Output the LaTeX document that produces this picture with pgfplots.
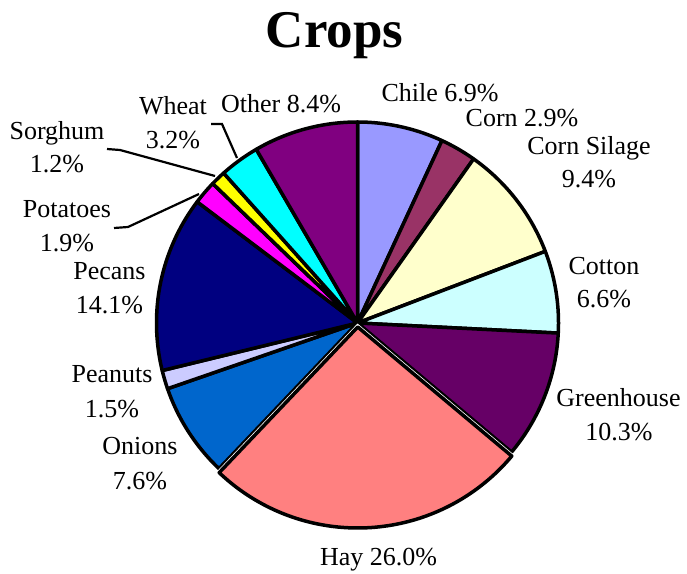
\documentclass[border=0pt]{standalone}
\usepackage{pgfplots}
\pgfplotsset{compat=1.18}
\usepackage{fontspec}
\setmainfont{Liberation Serif}
\definecolor{cChile}{HTML}{9999FF}
\definecolor{cCorn}{HTML}{993366}
\definecolor{cSilage}{HTML}{FFFFCC}
\definecolor{cCotton}{HTML}{CCFFFF}
\definecolor{cGreen}{HTML}{660066}
\definecolor{cHay}{HTML}{FF8080}
\definecolor{cOnion}{HTML}{0066CC}
\definecolor{cPeanut}{HTML}{CCCCFF}
\definecolor{cPecan}{HTML}{000080}
\definecolor{cPotato}{HTML}{FF00FF}
\definecolor{cSorghum}{HTML}{FFFF00}
\definecolor{cWheat}{HTML}{00FFFF}
\definecolor{cOther}{HTML}{800080}
% slice: #1 start (cumulative %), #2 end (cumulative %), #3 colour, #4 centre x, #5 centre y
\newcommand\slice[5]{%
  \addplot[fill=#3, draw=black, line width=3.5pt, line join=round,
    domain={3.6*#1}:{3.6*#2}, samples=80, variable=\t]
    ({#4+201*sin(t)}, {#5+201*cos(t)}) -- (axis cs:#4,#5) -- cycle;}
\newcommand\lab[3]{\node[anchor=base, inner sep=0pt, font=\fontsize{26}{30}\selectfont] at (axis cs:#1,{573-#2}) {#3};}
\begin{document}
\begin{tikzpicture}
\begin{axis}[
  width=687pt, height=573pt, scale only axis, hide axis, clip=false,
  xmin=0, xmax=687, ymin=0, ymax=573]
\path (rel axis cs:0,0) rectangle (rel axis cs:1,1);
% values (percent): Chile 6.9, Corn 2.9, Corn Silage 9.4, Cotton 6.6, Greenhouse 10.3,
% Hay 26.0, Onions 7.6, Peanuts 1.5, Pecans 14.1, Potatoes 1.9, Sorghum 1.2, Wheat 3.2, Other 8.4
\slice{0}{6.9}{cChile}{357.5}{250}
\slice{6.9}{9.8}{cCorn}{357.5}{250}
\slice{9.8}{19.2}{cSilage}{357.5}{250}
\slice{19.2}{25.8}{cCotton}{357.5}{250}
\slice{25.8}{36.1}{cGreen}{357.5}{250}
\slice{62.1}{69.7}{cOnion}{357.5}{250}
\slice{69.7}{71.2}{cPeanut}{357.5}{250}
\slice{71.2}{85.3}{cPecan}{357.5}{250}
\slice{85.3}{87.2}{cPotato}{357.5}{250}
\slice{87.2}{88.4}{cSorghum}{357.5}{250}
\slice{88.4}{91.6}{cWheat}{357.5}{250}
\slice{91.6}{100}{cOther}{357.5}{250}
\addplot[draw=white, line width=5pt, domain={3.6*36.1}:{3.6*62.1}, samples=80, variable=\t]
  ({357.7+201*sin(t)}, {246+201*cos(t)}) -- (axis cs:357.7,246) -- cycle;
\slice{36.1}{62.1}{cHay}{357.7}{246}
% leader lines
\addplot[black, line width=2.2pt] coordinates {(107,424) (120,423) (215,397)};
\addplot[black, line width=2.2pt] coordinates {(114,345) (128,346) (199,379)};
\addplot[black, line width=2.2pt] coordinates {(211,449) (222,449) (237,415)};
% title
\node[anchor=base, inner sep=0pt, font=\bfseries\fontsize{53}{60}\selectfont] at (axis cs:334.5,{573-48}) {Crops};
% labels
\lab{440}{102}{Chile 6.9\%}
\lab{522}{127}{Corn 2.9\%}
\lab{589}{155}{Corn Silage}
\lab{589}{188}{9.4\%}
\lab{604}{275}{Cotton}
\lab{604}{308}{6.6\%}
\lab{618.5}{406}{Greenhouse}
\lab{619}{440}{10.3\%}
\lab{378.5}{565}{Hay 26.0\%}
\lab{140}{454}{Onions}
\lab{140}{489}{7.6\%}
\lab{112}{383}{Peanuts}
\lab{112}{417}{1.5\%}
\lab{109.5}{280}{Pecans}
\lab{109.5}{314}{14.1\%}
\lab{67}{218}{Potatoes}
\lab{67}{252}{1.9\%}
\lab{57}{140}{Sorghum}
\lab{57}{173}{1.2\%}
\lab{173}{115}{Wheat}
\lab{173}{149}{3.2\%}
\lab{281}{113}{Other 8.4\%}
\end{axis}
\end{tikzpicture}
\end{document}
